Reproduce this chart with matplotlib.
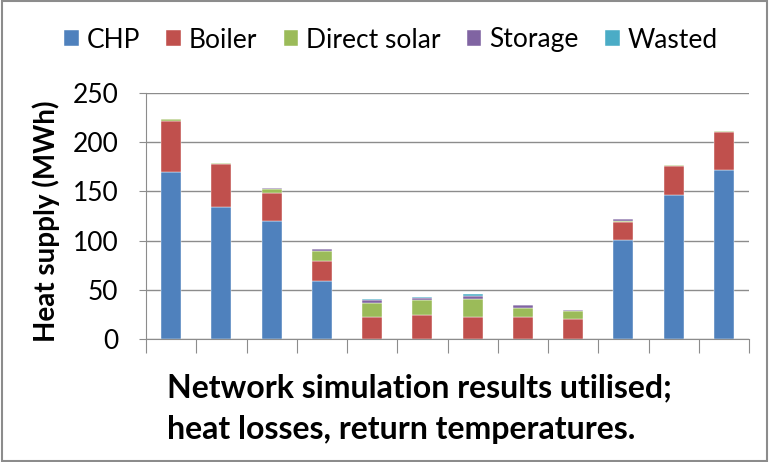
import matplotlib.pyplot as plt
import numpy as np
from matplotlib.patches import Rectangle

plt.rcParams["font.family"] = ["Lato", "DejaVu Sans"]

# monthly heat supply by source (MWh)
months = np.arange(12)
chp = [170, 134, 120, 59, 0, 0, 0, 0, 0, 100.5, 146, 172]
boiler = [52, 44, 28, 20, 22, 24, 22, 22, 20, 18.5, 29.5, 38]
direct_solar = [1.5, 1.3, 4.5, 10.5, 14.5, 15.5, 18.5, 10, 8.5, 1.3, 1.2, 1.3]
storage = [0, 0, 1.3, 2, 3.5, 2.5, 3.5, 2.5, 1, 1.3, 0, 0]
wasted = [0, 0, 0, 0, 1, 0.5, 1.5, 0.5, 0, 0, 0, 0]

series = [
    ("CHP", chp, "#4f81bd"),
    ("Boiler", boiler, "#c0504d"),
    ("Direct solar", direct_solar, "#9bbb59"),
    ("Storage", storage, "#8064a2"),
    ("Wasted", wasted, "#4bacc6"),
]

fig = plt.figure(figsize=(7.69, 4.62), dpi=100)
ax = fig.add_axes([146 / 769, 1 - 339 / 462, 603 / 769, 246 / 462])

bottom = np.zeros(12)
for name, vals, color in series:
    vals = np.array(vals, dtype=float)
    ax.bar(months, vals, 0.4, bottom=bottom, color=color, label=name,
           edgecolor="white", linewidth=0.3)
    bottom += vals

ax.set_xlim(-0.5, 11.5)
ax.set_ylim(0, 250)
ax.set_yticks(range(0, 251, 50))
ax.set_xticks(np.arange(-0.5, 12, 1))
ax.set_xticklabels([])
ax.grid(axis="y", color="#8c8c8c", linewidth=1)
ax.set_axisbelow(True)
for s in ["top", "right"]:
    ax.spines[s].set_visible(False)
for s in ["left", "bottom"]:
    ax.spines[s].set_color("#8c8c8c")
ax.tick_params(axis="x", length=10, color="#8c8c8c")
ax.tick_params(axis="y", length=5, color="#8c8c8c", labelsize=19, pad=15)

ax.set_ylabel("Heat supply (MWh)", fontsize=20, fontweight="bold")
ax.yaxis.set_label_coords(-(146 - 60) / 603, 0.478)

fig.text(167 / 769, 1 - 388 / 462, "Network simulation results utilised;",
         ha="left", va="center", fontsize=23, fontweight="bold")
fig.text(167 / 769, 1 - 430 / 462, "heat losses, return temperatures.",
         ha="left", va="center", fontsize=23, fontweight="bold")

fig.legend(loc="center", bbox_to_anchor=(391 / 769, 1 - 40 / 462), ncol=5,
           frameon=False, fontsize=19, handlelength=0.55, handleheight=0.55,
           handletextpad=0.3, columnspacing=1.0)

fig.patches.append(Rectangle((0.003, 0.003), 0.994, 0.994, transform=fig.transFigure,
                             fill=False, edgecolor="#8c8c8c", linewidth=1.5))

fig.savefig("out.png", dpi=100)
